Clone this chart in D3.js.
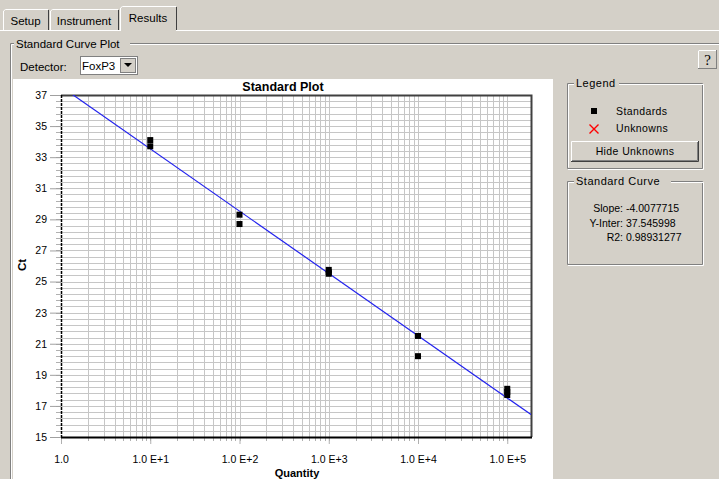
<!DOCTYPE html>
<html><head><meta charset="utf-8">
<script src="https://cdn.jsdelivr.net/npm/d3@7"></script>
<style>
html,body{margin:0;padding:0;background:#d4d0c8;}
svg{display:block;font-family:"Liberation Sans",Arial,sans-serif;}
</style></head>
<body>
<svg id="c" width="719" height="479"></svg>
<script>
// ---- data ----
const standardsQty = [10, 10, 100, 100, 1000, 1000, 1000, 10000, 10000, 100000, 100000, 100000];
const standardsCt  = [34.1, 33.7, 29.3, 28.7, 25.75, 25.6, 25.5, 21.5, 20.2, 18.1, 17.9, 17.7];
const xTickValues = [1, 10, 100, 1000, 10000, 100000];
const xTickLabels = ["1.0", "1.0 E+1", "1.0 E+2", "1.0 E+3", "1.0 E+4", "1.0 E+5"];
const yTickValues = [15, 17, 19, 21, 23, 25, 27, 29, 31, 33, 35, 37];
const curveSlope = -4.0077715;
const curveIntercept = 37.545998;
const curveR2 = 0.98931277;
const tabs = ["Setup", "Instrument", "Results"];
const legendItems = ["Standards", "Unknowns"];

const svg = d3.select("#c");
const bg = "#d4d0c8";

// ---- window chrome ----
svg.append("rect").attr("x",0).attr("y",0).attr("width",719).attr("height",479).attr("fill",bg);
svg.append("line").attr("x1",0).attr("x2",719).attr("y1",30.5).attr("y2",30.5).attr("stroke","#fff");
// tabs
const tabX = [3, 50, 120], tabW = [47, 70, 58];
tabs.forEach((t,i)=>{
  const sel = i===2;
  const g = svg.append("g");
  const y0 = sel ? 6 : 9;
  g.append("path").attr("d",`M${tabX[i]+0.5},31 V${y0+2} L${tabX[i]+2.5},${y0+0.5} H${tabX[i]+tabW[i]-2} `)
    .attr("fill","none").attr("stroke","#fff");
  g.append("path").attr("d",`M${tabX[i]+tabW[i]-1.5},${y0+1} V30`).attr("fill","none").attr("stroke","#404040");
  if(sel) g.append("rect").attr("x",tabX[i]+1).attr("y",30).attr("width",tabW[i]-3).attr("height",2).attr("fill",bg);
  g.append("text").attr("x",tabX[i]+tabW[i]/2-1).attr("y",sel?22:25).attr("text-anchor","middle")
    .attr("font-size",11.5).attr("fill","#000").text(t);
});

// group box "Standard Curve Plot"
svg.append("path").attr("d","M10.5,479 V43.5 H14 M130,43.5 H719").attr("fill","none").attr("stroke","#808080");
svg.append("path").attr("d","M11.5,479 V44.5 H14 M130,44.5 H719").attr("fill","none").attr("stroke","#fff");
svg.append("text").attr("x",16).attr("y",48).attr("font-size",11.5).text("Standard Curve Plot");

// detector
svg.append("text").attr("x",20).attr("y",71).attr("font-size",11.5).text("Detector:");
svg.append("rect").attr("x",80.5).attr("y",56.5).attr("width",57).attr("height",18).attr("fill","#fff").attr("stroke","#808080");
svg.append("text").attr("x",82).attr("y",70).attr("font-size",11.5).text("FoxP3");
svg.append("rect").attr("x",120.5).attr("y",58.5).attr("width",15).attr("height",14).attr("fill",bg).attr("stroke","#808080");
svg.append("path").attr("d","M124,63 H132 L128,67 Z").attr("fill","#000");

// help button
svg.append("rect").attr("x",698.5).attr("y",50.5).attr("width",18).attr("height",18).attr("fill",bg).attr("stroke","#808080");
svg.append("path").attr("d","M698.5,68 V50.5 H716").attr("fill","none").attr("stroke","#fff");
svg.append("text").attr("x",707.5).attr("y",65).attr("text-anchor","middle").attr("font-size",15)
  .attr("font-family","Liberation Serif,serif").text("?");

// white plot panel
svg.append("rect").attr("x",13).attr("y",79).attr("width",540).attr("height",400).attr("fill","#fff");

// ---- scales ----
const x = d3.scaleLog().domain([1, Math.pow(10, 5.266)]).range([61, 531]);
const y = d3.scaleLinear().domain([15, 37]).range([437, 95]);
const [x0,x1] = x.range(), [yb,yt] = [y(15), y(37)];

// gridlines
const minorX = [];
for (let k=0;k<6;k++) for (let m=1;m<10;m++){ const v=m*Math.pow(10,k); if(v<=x.domain()[1]) minorX.push(v); }
const minorY = d3.range(15, 37.001, 0.4);
const grid = svg.append("g").attr("stroke","#c6c6c6").attr("stroke-width",1);
grid.selectAll(".gx").data(minorX.filter(v=>v>1)).join("line")
  .attr("x1",d=>Math.round(x(d))+0.5).attr("x2",d=>Math.round(x(d))+0.5).attr("y1",yt).attr("y2",yb);
grid.selectAll(".gy").data(minorY.filter(v=>v>15.01&&v<36.99)).join("line")
  .attr("x1",x0).attr("x2",x1).attr("y1",d=>Math.round(y(d))+0.5).attr("y2",d=>Math.round(y(d))+0.5);

// minor ticks outside
svg.append("g").attr("stroke","#b0b0b0").selectAll("line").data(minorX.filter(v=>v>1)).join("line")
  .attr("x1",d=>Math.round(x(d))+0.5).attr("x2",d=>Math.round(x(d))+0.5).attr("y1",yb).attr("y2",yb+4);
svg.append("g").attr("stroke","#b0b0b0").selectAll("line").data(minorY).join("line")
  .attr("x1",x0-5).attr("x2",x0).attr("y1",d=>Math.round(y(d))+0.5).attr("y2",d=>Math.round(y(d))+0.5);

// axes
const xAxis = d3.axisBottom(x).tickValues(xTickValues).tickSize(7).tickPadding(12)
  .tickFormat((d,i)=>xTickLabels[i]);
const gx = svg.append("g").attr("transform",`translate(0,${yb})`).call(xAxis);
gx.select(".domain").remove();
gx.selectAll(".tick line").attr("stroke","#b0b0b0");
gx.selectAll("text").attr("font-size",10.5).attr("font-family","Liberation Sans,Arial,sans-serif").attr("fill","#000");

const yAxis = d3.axisLeft(y).tickValues(yTickValues).tickSize(11).tickPadding(3);
const gy = svg.append("g").attr("transform",`translate(${x0},0)`).call(yAxis);
gy.select(".domain").remove();
gy.selectAll(".tick line").attr("stroke","#a0a0a0");
gy.selectAll("text").attr("font-size",10.5).attr("font-family","Liberation Sans,Arial,sans-serif").attr("fill","#000");

// frame
svg.append("path").attr("d",`M${x0},${yt+0.5} H${x1+0.5} V${yb}`).attr("fill","none").attr("stroke","#404040").attr("stroke-width",2);
svg.append("line").attr("x1",x0).attr("x2",x1+1).attr("y1",yb+0.5).attr("y2",yb+0.5).attr("stroke","#000").attr("stroke-width",2);
svg.append("line").attr("x1",x0+0.5).attr("x2",x0+0.5).attr("y1",yt).attr("y2",yb).attr("stroke","#000").attr("stroke-width",1.5).attr("stroke-dasharray","3,1");

// regression line
svg.append("clipPath").attr("id","clip").append("rect").attr("x",x0).attr("y",yt).attr("width",x1-x0).attr("height",yb-yt);
const lx = x.domain();
svg.append("line").attr("clip-path","url(#clip)")
  .attr("x1",x(lx[0])).attr("y1",y(curveIntercept+curveSlope*Math.log10(lx[0])))
  .attr("x2",x(lx[1])).attr("y2",y(curveIntercept+curveSlope*Math.log10(lx[1])))
  .attr("stroke","#2222ee").attr("stroke-width",1.2);

// standards
svg.append("g").selectAll("rect").data(standardsQty.map((q,i)=>[q,standardsCt[i]])).join("rect")
  .attr("x",d=>x(d[0])-3).attr("y",d=>y(d[1])-3).attr("width",6).attr("height",6).attr("fill","#000");

// titles
svg.append("text").attr("x",283).attr("y",91).attr("text-anchor","middle").attr("font-size",12.5).attr("font-weight","bold").text("Standard Plot");
svg.append("text").attr("x",297).attr("y",477).attr("text-anchor","middle").attr("font-size",11).attr("font-weight","bold").text("Quantity");
svg.append("text").attr("transform","translate(26,265) rotate(-90)").attr("text-anchor","middle").attr("font-size",11.5).attr("font-weight","bold").text("Ct");

// ---- legend box ----
function groupBox(x,y,w,h,label,lw){
  svg.append("path").attr("d",`M${x+7},${y+0.5} H${x+0.5} V${y+h+0.5} H${x+w+0.5} V${y+0.5} H${x+lw}`).attr("fill","none").attr("stroke","#808080");
  svg.append("path").attr("d",`M${x+7},${y+1.5} H${x+1.5} V${y+h-0.5} M${x+1},${y+h+1.5} H${x+w+1.5} V${y+1.5} H${x+lw}`).attr("fill","none").attr("stroke","#fff");
  svg.append("text").attr("x",x+9).attr("y",y+4).attr("font-size",11).attr("letter-spacing",0.5).text(label);
}
groupBox(567,83,135,85,"Legend",52);
svg.append("rect").attr("x",591).attr("y",108).attr("width",6).attr("height",6).attr("fill","#000");
svg.append("path").attr("d","M589.5,124.5 L598.5,133.5 M598.5,124.5 L589.5,133.5").attr("stroke","#ff0000").attr("stroke-width",1.4);
svg.append("text").attr("x",616).attr("y",115).attr("font-size",10.5).attr("letter-spacing",0.4).text(legendItems[0]);
svg.append("text").attr("x",616).attr("y",132).attr("font-size",10.5).attr("letter-spacing",0.4).text(legendItems[1]);
// button
svg.append("rect").attr("x",571).attr("y",141).attr("width",128).attr("height",21).attr("fill",bg);
svg.append("path").attr("d","M571.5,162 V141.5 H698").attr("fill","none").attr("stroke","#fff");
svg.append("path").attr("d","M571,161.5 H698.5 V141").attr("fill","none").attr("stroke","#404040");
svg.append("path").attr("d","M572,160.5 H697.5 V142").attr("fill","none").attr("stroke","#808080");
svg.append("text").attr("x",635).attr("y",155).attr("text-anchor","middle").attr("font-size",10.5).attr("letter-spacing",0.4).text("Hide Unknowns");

groupBox(567,181,135,83,"Standard Curve",104);
const stats = [["Slope:", curveSlope.toFixed(7)],["Y-Inter:", curveIntercept.toFixed(6)],["R2:", curveR2.toFixed(8)]];
stats.forEach((s,i)=>{
  svg.append("text").attr("x",623).attr("y",212+i*14.5).attr("text-anchor","end").attr("font-size",10.5).text(s[0]);
  svg.append("text").attr("x",626).attr("y",212+i*14.5).attr("font-size",10.5).text(s[1]);
});
</script>
</body></html>
